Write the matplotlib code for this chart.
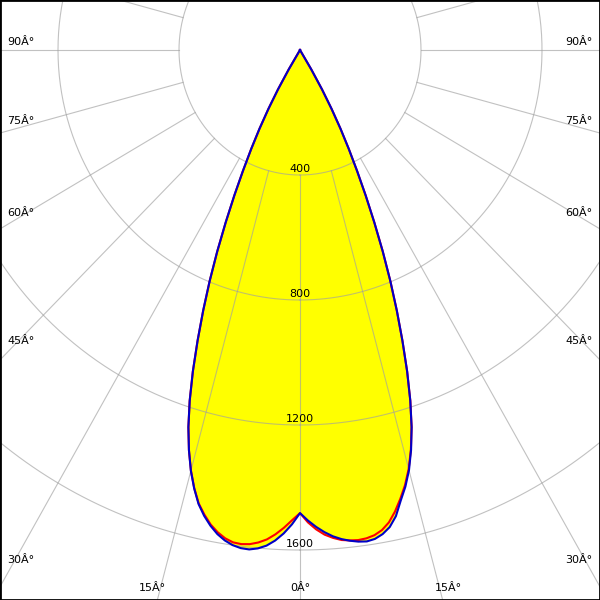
import numpy as np
import matplotlib.pyplot as plt

# polar intensity diagram (cd), gamma measured from nadir in degrees
gamma = list(range(0, 33))
blue_left = [1482, 1518, 1548, 1572, 1590, 1601, 1607, 1606, 1600, 1589,
             1573, 1551, 1524, 1491, 1446, 1394, 1332, 1262, 1180, 1088,
             990, 893, 797, 700, 604, 514, 430, 355, 285, 215,
             145, 72, 0]
blue_right = [1482, 1506, 1527, 1545, 1560, 1571, 1579, 1585, 1588, 1584,
              1573, 1555, 1525, 1480, 1440, 1392, 1332, 1262, 1180, 1088,
              990, 893, 797, 700, 604, 514, 430, 355, 285, 215,
              145, 72, 0]
red_left = [1482, 1505, 1530, 1552, 1570, 1582, 1590, 1593, 1591, 1582,
            1567, 1547, 1520, 1489, 1445, 1393, 1332, 1262, 1180, 1088,
            990, 893, 797, 700, 604, 514, 430, 355, 285, 215,
            145, 72, 0]
red_right = [1482, 1512, 1535, 1553, 1565, 1574, 1578, 1580, 1578, 1572,
             1560, 1540, 1510, 1474, 1435, 1388, 1330, 1262, 1180, 1088,
             990, 893, 797, 700, 604, 514, 430, 355, 285, 215,
             145, 72, 0]

rings = [400, 800, 1200, 1600]
ring_labels = ['400', '800', '1200', '1600']
spokes = np.arange(-180, 181, 15)

angle_labels = ['90Â°', '75Â°', '60Â°', '45Â°', '30Â°', '15Â°', '0Â°']
# label centres in pixels (x from left, y from top) for the left side
label_px = [(21, 42), (21, 121), (21, 213), (21, 341), (21, 560), (152, 588), (300, 588)]

# pixel scale of the diagram (px per cd)
sx = 121 / 400
sy = 125 / 400
cx, cy = 300, 50


def outline(left, right):
    g = np.radians(gamma)
    l = np.array(left, float)
    r = np.array(right, float)
    xs = np.concatenate([-(l * np.sin(g))[::-1], (r * np.sin(g))[1:]])
    ys = np.concatenate([-(l * np.cos(g))[::-1], -(r * np.cos(g))[1:]])
    return xs, ys


fig = plt.figure(figsize=(6, 6), dpi=100)
ax = fig.add_axes([0, 0, 1, 1])
ax.set_xlim(-cx / sx, (600 - cx) / sx)
ax.set_ylim(-(600 - cy) / sy, cy / sy)
ax.set_xticks([])
ax.set_yticks([])
for s in ax.spines.values():
    s.set_color('black')
    s.set_linewidth(2)

bx, by = outline(blue_left, blue_right)
rx, ry = outline(red_left, red_right)
ax.fill(bx, by, color='#ffff00', zorder=1, lw=0)
ax.fill(rx, ry, color='#ffff00', zorder=1, lw=0)

grid_kw = dict(color='#a0a0a0', lw=0.8, alpha=0.65, zorder=2)
t = np.radians(np.linspace(0, 360, 721))
for r in rings:
    ax.plot(r * np.sin(t), -r * np.cos(t), **grid_kw)
for a in spokes:
    ar = np.radians(a)
    ax.plot([400 * np.sin(ar), 4000 * np.sin(ar)],
            [-400 * np.cos(ar), -4000 * np.cos(ar)], **grid_kw)

ax.plot(rx, ry, color='#ff0000', lw=1.5, zorder=3)
ax.plot(bx, by, color='#0000c8', lw=1.5, zorder=4)

for r, txt in zip(rings, ring_labels):
    ax.annotate(txt, (0, -r), xytext=(0, 4.5), textcoords='offset points',
                ha='center', va='center', fontsize=8, color='black', zorder=5)

for txt, (px, py) in zip(angle_labels, label_px):
    fig.text(px / 600, 1 - py / 600, txt, ha='center', va='center', fontsize=8)
    if px != 300:
        fig.text((600 - px) / 600, 1 - py / 600, txt, ha='center', va='center', fontsize=8)

fig.savefig('out.png', dpi=100)
